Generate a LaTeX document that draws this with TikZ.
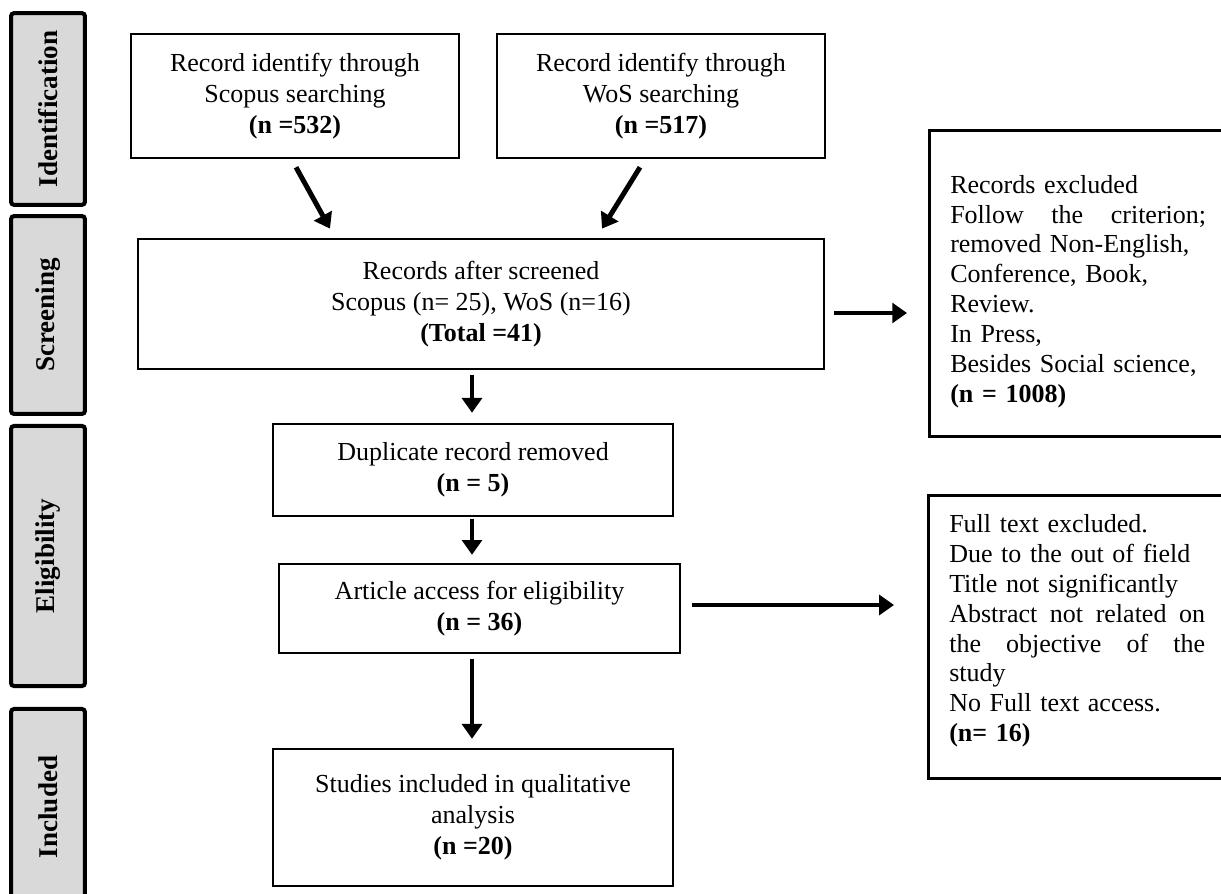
\documentclass[tikz,border=0pt]{standalone}
\usepackage{fontspec}
\setmainfont{Liberation Serif}
\usetikzlibrary{arrows.meta, calc}
\definecolor{stagegray}{RGB}{217,217,217}
\tikzstyle{process} = [rectangle, draw=black, line width=1.2pt,
                       inner sep=0pt, align=center,
                       font=\fontsize{12}{14.3}\selectfont]
\tikzstyle{stage} = [rectangle, rounded corners=0.05cm, draw=black,
                     fill=stagegray, line width=1.85pt, rotate=90,
                     minimum height=1.2cm, inner sep=0pt,
                     font=\fontsize{12.5}{14}\selectfont\bfseries]
\tikzstyle{note} = [rectangle, draw=black, line width=1.2pt, anchor=north west,
                    text width=4.15cm, inner xsep=0.34cm, inner ysep=0.31cm,
                    align=left, font=\fontsize{12}{13.8}\selectfont]
\tikzstyle{arrow} = [line width=2.3pt, -{Triangle[width=0.32cm,length=0.24cm]}]

\begin{document}
\begin{tikzpicture}[x=0.01622cm, y=-0.01622cm]
        \clip (0,0) rectangle (1221,894);

        % stages on the left
        \node (Identification) [stage, minimum width=3.11cm] at (48,109) {Identification};
        \node (Screening) [stage, minimum width=3.21cm] at (48,315) {Screening};
        \node (Eligibility) [stage, minimum width=4.22cm] at (48,556) {Eligibility};
        \node (Included) [stage, minimum width=3.18cm] at (48,807) {Included};

        % flow
        \node (Scopus) [process, minimum width=5.32cm, minimum height=2.01cm] at (295,96)
            {Record identify through\\Scopus searching\\\textbf{(n =532)}};
        \node (WoS) [process, minimum width=5.32cm, minimum height=2.01cm] at (661,96)
            {Record identify through\\WoS searching\\\textbf{(n =517)}};
        \node (Screened) [process, minimum width=11.13cm, minimum height=2.11cm] at (481,304)
            {Records after screened\\Scopus (n= 25), WoS (n=16)\\\textbf{(Total =41)}};
        \node (Duplicate) [process, minimum width=6.49cm, minimum height=1.49cm] at (473,470)
            {Duplicate record removed\\\textbf{(n = 5)}};
        \node (Article) [process, minimum width=6.50cm, minimum height=1.44cm] at (479.5,608.5)
            {Article access for eligibility\\\textbf{(n = 36)}};
        \node (Studies) [process, minimum width=6.49cm, minimum height=2.22cm] at (473,817.5)
            {Studies included in qualitative\\analysis\\\textbf{(n =20)}};

        % exclusions
        \node (Excluded1) [note] at (928,129)
            {\rule{0pt}{0.71cm}Records excluded\\
             \makebox[4.15cm][l]{Follow\hfill the\hfill criterion;}\\
             removed Non-English,\\
             Conference, Book,\\
             Review.\\
             In Press,\\
             Besides Social science,\\
             \textbf{(n = 1008)}\rule[-0.24cm]{0pt}{0.1cm}};
        \node (Excluded2) [note] at (927,494)
            {Full text excluded.\\
             Due to the out of field\\
             Title not significantly\\
             \makebox[4.15cm][l]{Abstract\hfill not\hfill related\hfill on}\\
             \makebox[4.15cm][l]{the\hfill objective\hfill of\hfill the}\\
             study\\
             No Full text access.\\
             \textbf{(n= 16)}\rule[-0.29cm]{0pt}{0.1cm}};

        \coordinate (ScreenedOut) at ($(Screened.east)+(9,9)$);
        \coordinate (ArticleOut) at ($(Article.east)+(11,-3.5)$);

        \draw [arrow] ($(Scopus.south)+(1,8)$) -- ($(Screened.north)+(-151,-9)$);
        \draw [arrow] ($(WoS.south)+(-21,8)$) -- ($(Screened.north)+(121,-9)$);
        \draw [arrow] ($(Screened.south)+(-9,5)$) -- ($(Duplicate.north)+(-1,-10)$);
        \draw [arrow] ($(Duplicate.south)+(-1,2)$) -- ($(Article.north)+(-7.5,-8)$);
        \draw [arrow] ($(Article.south)+(-7.5,5)$) -- ($(Studies.north)+(-1,-9)$);
        \draw [arrow, shorten >=0.34cm] (ScreenedOut) -- (ScreenedOut -| Excluded1.west);
        \draw [arrow, shorten >=0.535cm] (ArticleOut) -- (ArticleOut -| Excluded2.west);

    \end{tikzpicture}
\end{document}
